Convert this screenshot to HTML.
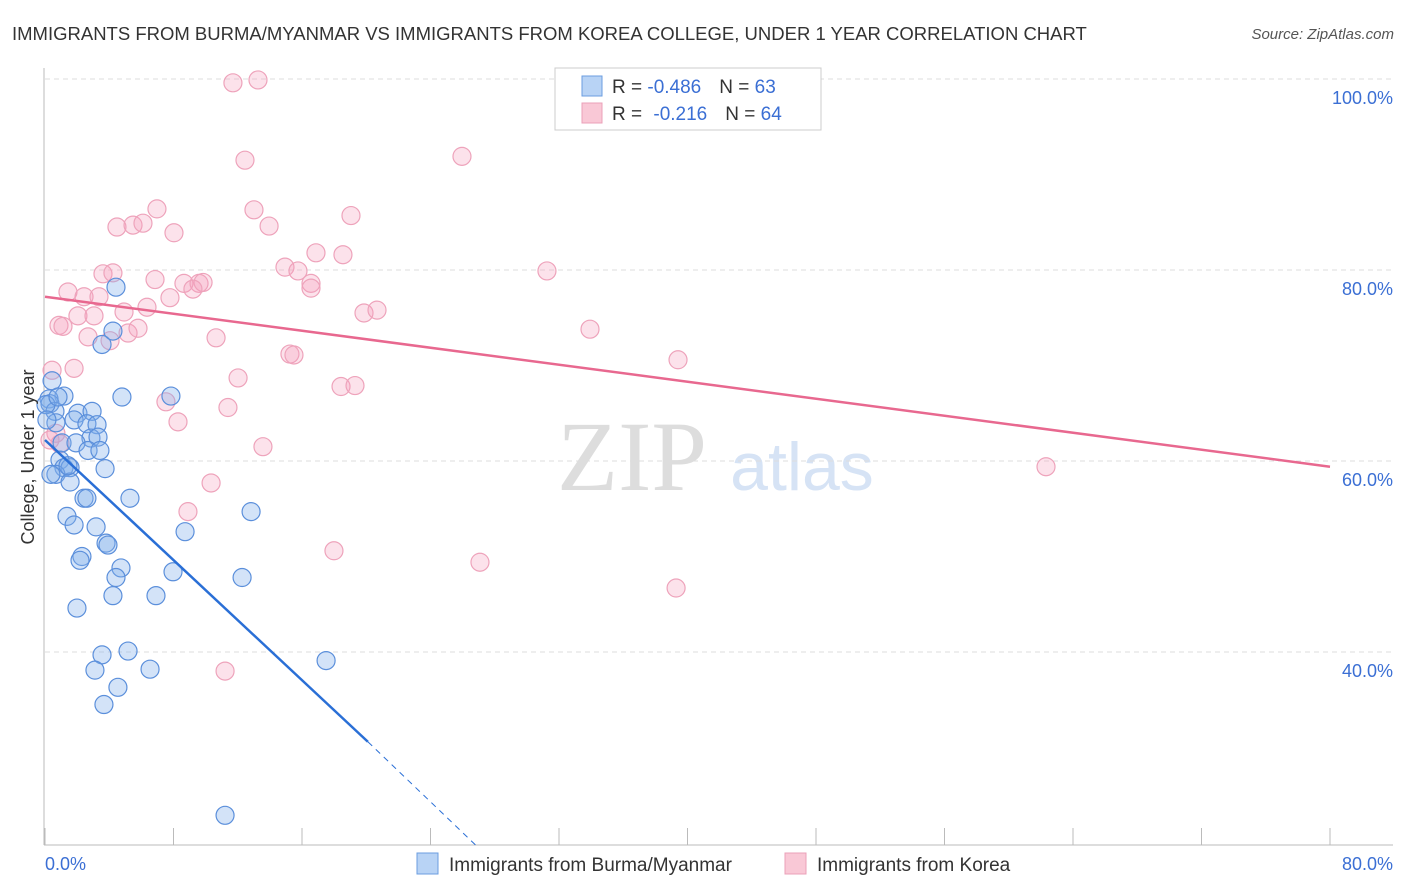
<!DOCTYPE html>
<html><head><meta charset="utf-8"><style>
body{margin:0;background:#fff;font-family:"Liberation Sans",sans-serif;}
svg{display:block}
</style></head><body>
<svg id="chart" width="1406" height="892" xmlns="http://www.w3.org/2000/svg">
<text x="12" y="40" font-size="18.5" fill="#333">IMMIGRANTS FROM BURMA/MYANMAR VS IMMIGRANTS FROM KOREA COLLEGE, UNDER 1 YEAR CORRELATION CHART</text>
<text x="1394" y="39" font-size="15" fill="#555" font-style="italic" text-anchor="end">Source: ZipAtlas.com</text>
<g id="watermark">
<text x="632" y="490" font-family="Liberation Serif,serif" font-size="100" fill="#ddd" text-anchor="middle">ZIP</text>
<text x="802" y="490" font-size="68" fill="#d6e3f5" text-anchor="middle">atlas</text>
</g>
<g id="grid"></g>
<g id="axes"></g>
<g id="marks"></g>
<text transform="translate(34,457) rotate(-90)" font-size="18" fill="#333" text-anchor="middle">College, Under 1 year</text>
<g>
<rect x="555" y="68" width="266" height="62" fill="#fff" stroke="#ccc"/>
<rect x="582" y="76" width="20" height="20" fill="#b8d3f5" stroke="#6b9ee0"/>
<text x="612" y="93" font-size="19" fill="#333">R = <tspan fill="#3b6fd4">-0.486</tspan><tspan dx="18">N = </tspan><tspan fill="#3b6fd4">63</tspan></text>
<rect x="582" y="103" width="20" height="20" fill="#f9c8d6" stroke="#eba0b8"/>
<text x="612" y="120" font-size="19" fill="#333">R = <tspan dx="6" fill="#3b6fd4">-0.216</tspan><tspan dx="18">N = </tspan><tspan fill="#3b6fd4">64</tspan></text>
</g>
<g>
<rect x="417" y="853" width="21" height="21" fill="#b8d3f5" stroke="#6b9ee0"/>
<text x="449" y="871" font-size="19" fill="#333">Immigrants from Burma/Myanmar</text>
<rect x="785" y="853" width="21" height="21" fill="#f9c8d6" stroke="#eba0b8"/>
<text x="817" y="871" font-size="19" fill="#333">Immigrants from Korea</text>
</g>
</svg>
<script>
const yTicks=[100,80,60,40];
const yTickLabels=["100.0%","80.0%","60.0%","40.0%"];
const xTicks=[0,8,16,24,32,40,48,56,64,72,80];
const xTickLabels=["0.0%","80.0%"];
const blueX=[4.42,4.23,3.55,0.44,4.79,7.84,1.18,0.25,0.31,0.62,2.05,2.93,1.81,0.68,2.61,3.24,2.86,3.30,1.06,1.93,2.68,3.42,0.93,1.18,1.56,3.74,0.68,1.56,2.43,2.61,5.29,1.37,1.81,3.18,12.83,8.72,3.80,3.92,2.30,2.18,4.73,7.97,4.42,12.27,4.23,6.91,1.99,3.55,5.17,3.11,6.54,17.50,4.54,3.67,11.21,0.06,0.12,0.37,0.81,1.43];
const blueY=[78.2,73.6,72.2,68.4,66.7,66.8,66.8,66.5,66.0,65.2,65.0,65.2,64.3,64.0,63.9,63.8,62.4,62.5,61.9,61.9,61.1,61.1,60.1,59.3,59.3,59.2,58.6,57.8,56.1,56.1,56.1,54.2,53.3,53.1,54.7,52.6,51.4,51.2,50.0,49.6,48.8,48.4,47.8,47.8,45.9,45.9,44.6,39.7,40.1,38.1,38.2,39.1,36.3,34.5,22.9,65.9,64.3,58.6,66.7,59.5];
const pinkX=[11.70,13.26,12.45,25.96,6.97,13.01,19.05,4.48,5.48,6.10,8.03,13.95,16.87,18.55,3.61,4.23,6.85,8.65,9.59,9.84,14.94,15.75,16.56,16.56,31.25,1.43,2.43,3.36,6.35,7.78,9.21,4.92,2.05,3.05,19.86,20.67,0.87,1.12,2.68,4.05,5.17,5.79,10.65,33.93,15.25,15.50,39.41,0.44,1.81,12.02,18.43,19.30,7.53,8.28,11.39,0.68,0.93,13.57,10.34,8.90,62.32,17.99,27.08,39.29,11.21,0.31];
const pinkY=[99.6,99.9,91.5,91.9,86.4,86.3,85.7,84.5,84.7,84.9,83.9,84.6,81.8,81.6,79.6,79.7,79.0,78.6,78.6,78.7,80.3,79.9,78.6,78.1,79.9,77.7,77.2,77.2,76.1,77.1,78.0,75.6,75.2,75.2,75.5,75.8,74.2,74.1,73.0,72.6,73.4,73.9,72.9,73.8,71.2,71.1,70.6,69.5,69.7,68.7,67.8,67.9,66.2,64.1,65.6,62.9,61.8,61.5,57.7,54.7,59.4,50.6,49.4,46.7,38.0,62.2];
const pinkTrend=[[0,77.2],[80,59.4]];
const blueTrendSolid=[[0,62.2],[20.1,30.6]];
const blueTrendDash=[[20.1,30.6],[26.8,19.8]];

const NS="http://www.w3.org/2000/svg";
const X=v=>45+v/80*1285;
const Y=v=>79+(100-v)*9.55;
function mk(tag,attrs,parent){const e=document.createElementNS(NS,tag);for(const k in attrs)e.setAttribute(k,attrs[k]);parent.appendChild(e);return e;}
const grid=document.getElementById('grid'),axes=document.getElementById('axes'),marks=document.getElementById('marks');
yTicks.forEach((t,i)=>{
 const l=mk('line',{x1:45,x2:1393,y1:Y(t),y2:Y(t),stroke:'#ddd','stroke-dasharray':'5,4'},grid);
 
 
 const tx=mk('text',{x:1393,y:Y(t)+25,'font-size':18,fill:'#3b6fd4','text-anchor':'end'},axes);
 tx.textContent=yTickLabels[i];
 
 
});
const ya=mk('line',{x1:44,x2:44,y1:68,y2:845,stroke:'#bbb'},axes);


const xa=mk('line',{x1:44,x2:1393,y1:845,y2:845,stroke:'#bbb'},axes);


xTicks.forEach(t=>{
 const l=mk('line',{x1:X(t),x2:X(t),y1:828,y2:845,stroke:'#bbb'},axes);
 
 
});
const xl0=mk('text',{x:45,y:870,'font-size':18,fill:'#3b6fd4'},axes);xl0.textContent=xTickLabels[0];


const xl1=mk('text',{x:1393,y:870,'font-size':18,fill:'#3b6fd4','text-anchor':'end'},axes);xl1.textContent=xTickLabels[1];


pinkX.forEach((v,i)=>{
 const c=mk('circle',{cx:X(v),cy:Y(pinkY[i]),r:9,fill:'rgba(244,160,188,0.3)',stroke:'#eea3bb','stroke-width':1.2},marks);
 
 
});
blueX.forEach((v,i)=>{
 const c=mk('circle',{cx:X(v),cy:Y(blueY[i]),r:9,fill:'rgba(130,175,235,0.35)',stroke:'#5b8fdb','stroke-width':1.2},marks);
 
 
});
const pl=mk('line',{x1:X(pinkTrend[0][0]),y1:Y(pinkTrend[0][1]),x2:X(pinkTrend[1][0]),y2:Y(pinkTrend[1][1]),stroke:'#e8688f','stroke-width':2.5},marks);


const bl=mk('line',{x1:X(blueTrendSolid[0][0]),y1:Y(blueTrendSolid[0][1]),x2:X(blueTrendSolid[1][0]),y2:Y(blueTrendSolid[1][1]),stroke:'#2a6fd6','stroke-width':2.5},marks);


const bd=mk('line',{x1:X(blueTrendDash[0][0]),y1:Y(blueTrendDash[0][1]),x2:X(blueTrendDash[1][0]),y2:Y(blueTrendDash[1][1]),stroke:'#2a6fd6','stroke-width':1,'stroke-dasharray':'6,5'},marks);


</script>
</body></html>
